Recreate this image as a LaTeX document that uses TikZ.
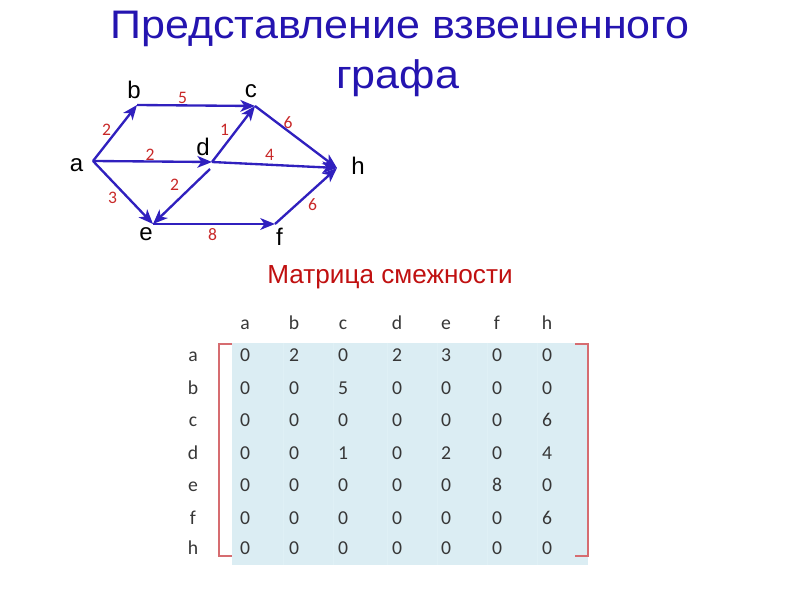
\documentclass[tikz,border=0pt]{standalone}
\usepackage{fontspec}
\setmainfont{Liberation Sans}
\newfontfamily\calib{Carlito}
\usetikzlibrary{arrows.meta}
\definecolor{titleblue}{RGB}{36,20,176}
\definecolor{edgeblue}{RGB}{48,32,190}
\definecolor{wred}{RGB}{200,40,40}
\definecolor{mred}{RGB}{192,16,16}
\definecolor{bred}{RGB}{214,108,112}
\definecolor{mbg}{RGB}{219,237,243}
\definecolor{mline}{RGB}{223,240,245}
\definecolor{mtext}{RGB}{55,55,55}
\begin{document}
\begin{tikzpicture}[x=0.03cm,y=-0.03cm,
  edge/.style={draw=edgeblue, line width=2pt, -{Stealth[length=12.5pt,width=10pt,inset=3.5pt]}},
  vlabel/.style={font=\fontsize{20.5}{23}\selectfont, inner sep=0pt, text=black},
  weight/.style={font=\calib\fontsize{15}{17}\selectfont, text=wred, inner sep=0pt},
  titletext/.style={font=\fontsize{34}{38}\selectfont, text=titleblue, inner sep=0pt, anchor=base, xscale=1.08, transform shape},
  cell/.style={font=\calib\fontsize{16.8}{19}\selectfont, text=mtext, inner sep=0pt, anchor=base},
  bracket/.style={draw=bred, line width=1.5pt},
]
\useasboundingbox (0,0) rectangle (800,600);
% title
\node[titletext] (t1) at (400,39) {Представление взвешенного};
\node[titletext] (t2) at (397.5,88.3) {графа};
% vertices
\coordinate (va) at (93,161);
\coordinate (vb) at (137,105);
\coordinate (vc) at (255,106);
\coordinate (vd) at (212,162);
\coordinate (vd2) at (210,169);
\coordinate (vh) at (337,168);
\coordinate (ve) at (153,224);
\coordinate (vf) at (275,224);
% vertex labels
\node[vlabel] (la) at (76.5,165) {a};
\node[vlabel] (lb) at (134,90) {b};
\node[vlabel] (lc) at (251,91) {c};
\node[vlabel] (ld) at (203,147) {d};
\node[vlabel] (lh) at (358,166) {h};
\node[vlabel] (le) at (146,234) {e};
\node[vlabel] (lf) at (279.5,237) {f};
% edges
\draw[edge] (va) -- (vb);
\draw[edge] (vb) -- (vc);
\draw[edge] (vc) -- (vh);
\draw[edge] (va) -- (vd);
\draw[edge] (vd) -- (vc);
\draw[edge] (vd) -- (vh);
\draw[edge] (vd2) -- (ve);
\draw[edge] (va) -- (ve);
\draw[edge] (ve) -- (vf);
\draw[edge] (vf) -- (vh);
% weights
\node[weight] (w1) at (182.5,98) {5};
\node[weight] (w2) at (106.5,130) {2};
\node[weight] (w3) at (224.5,130) {1};
\node[weight] (w4) at (288,122.5) {6};
\node[weight] (w5) at (150,155) {2};
\node[weight] (w6) at (269.5,155) {4};
\node[weight] (w7) at (174.5,185) {2};
\node[weight] (w8) at (112.5,198) {3};
\node[weight] (w9) at (312.5,205) {6};
\node[weight] (w10) at (212.5,234.5) {8};
% matrix caption
\node[font=\fontsize{22.3}{25}\selectfont, text=mred, inner sep=0pt] (cap) at (390,277) {Матрица смежности};
% matrix background
\fill[mbg] (232,343) rectangle (588,565);
\foreach \sx in {283,333,387,437,487,537}{
  \draw[mline, line width=0.5pt] (\sx,343) -- (\sx,565);
}
% brackets
\draw[bracket] (232,344) -- (219,344) -- (219,556) -- (232,556);
\draw[bracket] (575,344) -- (588,344) -- (588,556) -- (575,556);
% headers
\foreach \name [count=\i] in {a,b,c,d,e,f,h}{
  \pgfmathsetmacro{\cx}{{245,294,343,397,446,497,547}[\i-1]}
  \pgfmathsetmacro{\ry}{{362,395,427,460,492,525,555}[\i-1]}
  \node[cell] (hc-\i) at (\cx,330) {\name};
  \node[cell] (hr-\i) at (193,\ry) {\name};
}
% values
\foreach \row [count=\r] in {{0,2,0,2,3,0,0},{0,0,5,0,0,0,0},{0,0,0,0,0,0,6},{0,0,1,0,2,0,4},{0,0,0,0,0,8,0},{0,0,0,0,0,0,6},{0,0,0,0,0,0,0}}{
  \pgfmathsetmacro{\ry}{{362,395,427,460,492,525,555}[\r-1]}
  \foreach \v [count=\c] in \row {
    \pgfmathsetmacro{\cx}{{245,294,343,397,446,497,547}[\c-1]}
    \node[cell] (m-\r-\c) at (\cx,\ry) {\v};
  }
}
\end{tikzpicture}
\end{document}
